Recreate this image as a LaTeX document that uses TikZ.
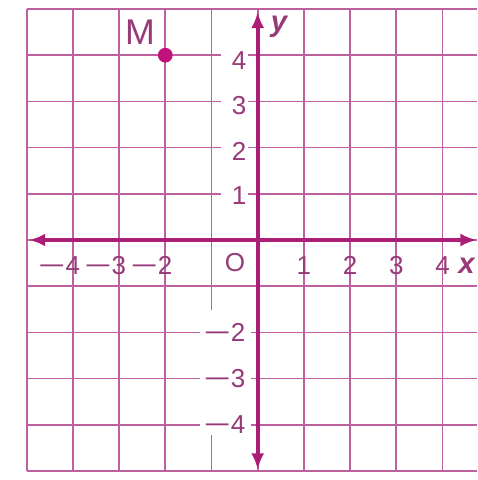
\documentclass[tikz,border=0pt]{standalone}
\usepackage{fontspec}
\setmainfont{Liberation Sans}
\usetikzlibrary{arrows.meta}
\definecolor{gridc}{RGB}{190,95,160}
\definecolor{axisc}{RGB}{172,30,118}
\definecolor{textc}{RGB}{150,58,120}
\definecolor{dotc}{RGB}{192,18,122}
\newcommand\mn{\scalebox{1.8}[1]{−}}
\tikzset{
  gridline/.style={draw=gridc, line width=1.0pt},
  axisline/.style={draw=axisc, line width=2.4pt, {Latex[length=10pt,width=8pt]}-{Latex[length=10pt,width=8pt]}},
  lab/.style={text=textc, inner sep=0pt, font=\fontsize{16}{18}\selectfont},
  axlab/.style={text=textc, inner sep=0pt, font=\fontsize{18}{20}\selectfont\bfseries\itshape},
}
\begin{document}
\begin{tikzpicture}
\useasboundingbox (-5.578,-5.195) rectangle (4.747,5.195);
\fill[white] (-5.578,-5.195) rectangle (4.747,5.195);
% grid
\foreach \y in {-5,...,5} \draw[gridline] (-5,\y) -- (4.75,\y);
\foreach \x in {-5,...,4} \draw[gridline] (\x,-5) -- (\x,5);
% white label areas
\fill[white] (-0.79,0.5) rectangle (-0.22,4.5);
\fill[white] (-1.25,-1.52) rectangle (-0.15,-4.22);
% axes
\coordinate (xl) at (-4.95,0);
\coordinate (xr) at (4.74,0);
\coordinate (yb) at (0,-4.97);
\coordinate (yt) at (0,4.94);
\draw[axisline] (xl) -- (xr);
\draw[axisline] (yb) -- (yt);
% y labels
\node[lab, anchor=east] (y4) at (-0.24,3.88) {4};
\node[lab, anchor=east] (y3) at (-0.24,2.92) {3};
\node[lab, anchor=east] (y2) at (-0.24,1.91) {2};
\node[lab, anchor=east] (y1) at (-0.24,0.96) {1};
\node[lab, anchor=east] (ym2) at (-0.26,-2.0) {\mn2};
\node[lab, anchor=east] (ym3) at (-0.26,-3.0) {\mn3};
\node[lab, anchor=east] (ym4) at (-0.26,-4.0) {\mn4};
% x labels
\node[lab, anchor=east] (xm4) at (-3.84,-0.56) {\mn4};
\node[lab, anchor=east] (xm3) at (-2.84,-0.56) {\mn3};
\node[lab, anchor=east] (xm2) at (-1.84,-0.56) {\mn2};
\node[lab] (o) at (-0.49,-0.49) {O};
\node[lab] (x1) at (1,-0.56) {1};
\node[lab] (x2) at (2,-0.56) {2};
\node[lab] (x3) at (3,-0.56) {3};
\node[lab] (x4) at (4,-0.56) {4};
\node[axlab] (xlab) at (4.52,-0.56) {x};
\node[axlab] (ylab) at (0.46,4.61) {y};
% point M
\fill[dotc] (-2,4) circle (0.16);
\node[text=textc, inner sep=0pt, font=\fontsize{22}{24}\selectfont] (m) at (-2.55,4.5) {M};
\end{tikzpicture}
\end{document}
